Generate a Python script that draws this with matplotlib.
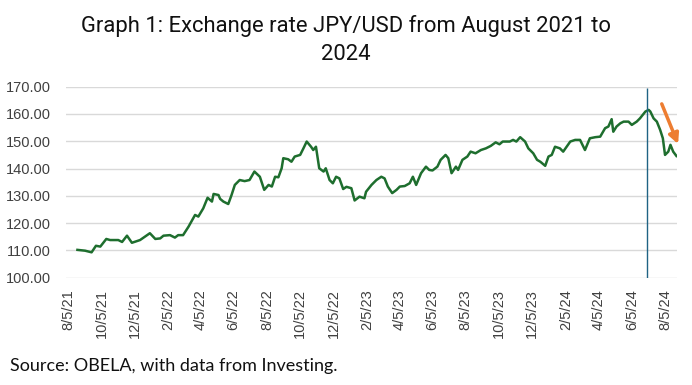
"""JPY/USD exchange rate, August 2021 to 2024."""

import matplotlib

matplotlib.use("Agg")
import matplotlib.pyplot as plt
import pandas as pd

TITLE = "Graph 1: Exchange rate JPY/USD from August 2021 to\n2024"
SOURCE = "Source: OBELA, with data from Investing."

DATES = [
    "2021-08-22", "2021-09-05", "2021-09-17", "2021-09-25", "2021-10-03", "2021-10-14",
    "2021-10-21", "2021-11-05", "2021-11-12", "2021-11-21", "2021-11-30", "2021-12-15",
    "2022-01-02", "2022-01-12", "2022-01-21", "2022-01-27", "2022-02-08", "2022-02-17",
    "2022-02-23", "2022-03-04", "2022-03-14", "2022-03-26", "2022-04-01", "2022-04-10",
    "2022-04-18", "2022-04-26", "2022-04-29", "2022-05-08", "2022-05-11", "2022-05-17",
    "2022-05-26", "2022-06-01", "2022-06-07", "2022-06-16", "2022-06-25", "2022-07-04",
    "2022-07-13", "2022-07-23", "2022-07-31", "2022-08-08", "2022-08-14", "2022-08-20",
    "2022-08-26", "2022-09-01", "2022-09-04", "2022-09-13", "2022-09-19", "2022-09-25",
    "2022-10-05", "2022-10-11", "2022-10-17", "2022-10-25", "2022-10-29", "2022-11-03",
    "2022-11-09", "2022-11-17", "2022-11-21", "2022-11-28", "2022-12-04", "2022-12-10",
    "2022-12-16", "2022-12-23", "2022-12-29", "2023-01-07", "2023-01-13", "2023-01-22",
    "2023-01-31", "2023-02-03", "2023-02-13", "2023-02-22", "2023-03-03", "2023-03-09",
    "2023-03-15", "2023-03-23", "2023-03-31", "2023-04-06", "2023-04-15", "2023-04-24",
    "2023-04-30", "2023-05-06", "2023-05-15", "2023-05-24", "2023-05-30", "2023-06-05",
    "2023-06-14", "2023-06-20", "2023-06-29", "2023-07-04", "2023-07-10", "2023-07-18",
    "2023-07-22", "2023-07-30", "2023-08-08", "2023-08-14", "2023-08-23", "2023-09-02",
    "2023-09-11", "2023-09-20", "2023-09-29", "2023-10-06", "2023-10-12", "2023-10-25",
    "2023-10-31", "2023-11-06", "2023-11-13", "2023-11-22", "2023-11-28", "2023-12-07",
    "2023-12-14", "2023-12-20", "2023-12-29", "2024-01-04", "2024-01-10", "2024-01-16",
    "2024-01-25", "2024-01-31", "2024-02-13", "2024-02-22", "2024-03-02", "2024-03-11",
    "2024-03-20", "2024-03-30", "2024-04-08", "2024-04-17", "2024-04-23", "2024-04-29",
    "2024-05-02", "2024-05-08", "2024-05-15", "2024-05-21", "2024-05-30", "2024-06-05",
    "2024-06-14", "2024-06-20", "2024-06-30", "2024-07-06", "2024-07-09", "2024-07-15",
    "2024-07-21", "2024-07-27", "2024-08-01", "2024-08-05", "2024-08-11", "2024-08-15",
    "2024-08-20", "2024-08-26",
]
RATES = [
    110.2, 109.9, 109.3, 111.7, 111.4, 114.2,
    113.8, 113.8, 113.1, 115.4, 112.8, 113.8,
    116.3, 114.2, 114.4, 115.4, 115.6, 114.7,
    115.6, 115.6, 118.7, 123.0, 122.4, 125.4,
    129.3, 127.9, 130.7, 130.3, 128.9, 127.9,
    127.0, 130.3, 134.0, 135.8, 135.4, 135.8,
    138.9, 137.0, 132.2, 134.0, 133.4, 137.0,
    136.8, 140.1, 143.8, 143.4, 142.5, 144.4,
    145.0, 147.4, 149.9, 148.0, 146.8, 148.0,
    140.1, 138.9, 140.1, 135.8, 134.6, 137.0,
    136.4, 132.5, 133.3, 132.8, 128.3, 129.7,
    129.1, 131.5, 134.0, 135.8, 137.0, 136.4,
    133.4, 131.0, 132.2, 133.4, 133.6, 134.6,
    137.0, 134.0, 138.3, 140.7, 139.5, 139.3,
    140.7, 143.2, 145.0, 143.8, 138.3, 140.7,
    139.5, 143.2, 144.4, 146.2, 145.6, 146.8,
    147.4, 148.3, 149.6, 148.9, 149.9, 149.9,
    150.5, 149.9, 151.5, 149.9, 147.4, 145.6,
    143.2, 142.5, 141.0, 144.4, 145.0, 148.0,
    147.4, 146.2, 149.9, 150.5, 150.5, 146.8,
    151.1, 151.5, 151.7, 154.8, 155.4, 158.1,
    153.5, 155.4, 156.6, 157.2, 157.2, 156.0,
    157.2, 158.4, 160.9, 161.5, 160.9, 158.4,
    157.2, 154.2, 151.1, 145.0, 146.2, 148.7,
    146.2, 144.6,
]

TICK_LABELS = [
    "8/5/21", "10/5/21", "12/5/21", "2/5/22", "4/5/22", "6/5/22", "8/5/22",
    "10/5/22", "12/5/22", "2/5/23", "4/5/23", "6/5/23", "8/5/23", "10/5/23",
    "12/5/23", "2/5/24", "4/5/24", "6/5/24", "8/5/24",
]
Y_TICKS = [100, 110, 120, 130, 140, 150, 160, 170]

MARKER_DATE = "2024-07-02"
ARROW_FROM = ("2024-07-30", 163.7)
ARROW_TO = ("2024-08-29", 149.0)


def main() -> None:
    dates = pd.to_datetime(DATES)
    ticks = pd.to_datetime(TICK_LABELS, format="%m/%d/%y")

    fig = plt.figure(figsize=(6.92, 3.85), dpi=100)
    ax = fig.add_axes([66 / 692, 1 - 277.7 / 385, 611 / 692, 191 / 385])

    ax.set_ylim(100, 170)
    ax.set_xlim(pd.Timestamp("2021-08-01"), pd.Timestamp("2024-08-27"))
    ax.set_yticks(Y_TICKS)
    ax.set_yticklabels([f"{v:.2f}" for v in Y_TICKS])
    ax.set_xticks(ticks)
    ax.set_xticklabels(TICK_LABELS, rotation=90)
    ax.yaxis.grid(True, color="#d9d9d9", lw=1.0)
    ax.set_axisbelow(True)
    for spine in ax.spines.values():
        spine.set_visible(False)
    ax.tick_params(length=0, labelsize=10.5, labelcolor="#404040")
    ax.tick_params(axis="y", pad=11)
    ax.tick_params(axis="x", pad=8)
    for label in ax.get_xticklabels() + ax.get_yticklabels():
        label.set_family("Liberation Sans")

    ax.plot(dates, RATES, color="#1e6e2e", lw=1.8, solid_joinstyle="round")

    ax.vlines(pd.Timestamp(MARKER_DATE), 100, 169.5, color="#1f6384", lw=1.0)
    ax.annotate(
        "", xy=(pd.Timestamp(ARROW_TO[0]), ARROW_TO[1]),
        xytext=(pd.Timestamp(ARROW_FROM[0]), ARROW_FROM[1]),
        arrowprops=dict(arrowstyle="-|>", color="#ed7d31", lw=2.5, mutation_scale=15, shrinkA=0, shrinkB=0),
        annotation_clip=False,
    )

    fig.text(0.5, 1 - 40 / 385, TITLE, ha="center", va="center", fontsize=15.8,
             family="Roboto", color="#111111", linespacing=1.4)
    fig.text(10 / 692, 1 - 366 / 385, SOURCE, ha="left", va="center", fontsize=13,
             family="Lato", color="#111111")

    fig.savefig("out.png", dpi=100)


if __name__ == "__main__":
    main()
